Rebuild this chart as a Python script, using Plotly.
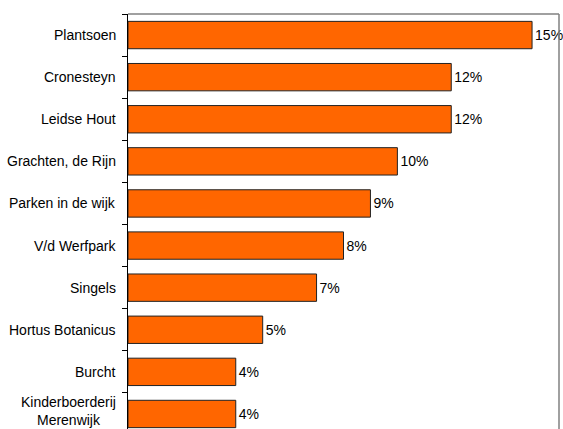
import plotly.graph_objects as go

categories = ["Plantsoen", "Cronesteyn", "Leidse Hout", "Grachten, de Rijn",
              "Parken in de wijk", "V/d Werfpark", "Singels", "Hortus Botanicus",
              "Burcht", "Kinderboerderij<br>Merenwijk"]
values = [15, 12, 12, 10, 9, 8, 7, 5, 4, 4]
value_labels = [f"{v}%" for v in values]

FONT = "Liberation Sans, Arial, sans-serif"

fig = go.Figure()
fig.add_trace(go.Bar(
    x=values, y=list(range(len(categories))), orientation="h",
    marker=dict(color="#FF6600", line=dict(color="#222222", width=1)),
    width=0.65,
    text=value_labels, textposition="outside", cliponaxis=False,
    constraintext="none",
    textfont=dict(family=FONT, size=14, color="black"),
    hoverinfo="skip",
))

annotations = []
for i, c in enumerate(categories):
    two_line = "<br>" in c
    annotations.append(dict(
        x=0, xref="paper", y=i, yref="y", text=c, showarrow=False,
        xanchor="right", yanchor="middle", align="center", xshift=-10,
        yshift=3 if two_line else 0,
        font=dict(family=FONT, size=14, color="black"),
    ))

fig.update_layout(
    width=563, height=429,
    margin=dict(l=128, r=4, t=14, b=0),
    paper_bgcolor="white", plot_bgcolor="white",
    showlegend=False,
    annotations=annotations,
    xaxis=dict(range=[0, 16], showgrid=False, zeroline=False,
               showticklabels=False, ticks="", showline=False, fixedrange=True),
    yaxis=dict(range=[9.357, -0.5], showgrid=False, zeroline=False,
               showticklabels=False, showline=True, linecolor="black", linewidth=1,
               tickmode="array", tickvals=[i - 0.5 for i in range(len(categories) + 1)],
               ticks="outside", ticklen=5, tickcolor="black", tickwidth=1,
               fixedrange=True),
    shapes=[
        dict(type="line", xref="paper", yref="paper", x0=0, x1=1, y0=1, y1=1,
             line=dict(color="#808080", width=1.5)),
        dict(type="line", xref="paper", yref="paper", x0=1, x1=1, y0=0, y1=1,
             line=dict(color="#808080", width=1.5)),
    ],
)

fig.write_html("out.html", config={"displayModeBar": False},
               post_script="document.body.style.margin='0';document.body.style.overflow='hidden';")
